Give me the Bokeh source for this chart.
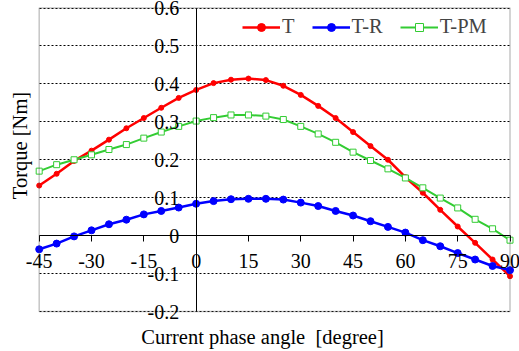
import math
from bokeh.plotting import figure
from bokeh.models import (Range1d, FixedTicker, Legend, Label, LabelSet,
                          ColumnDataSource, CustomJSTickFormatter, BoxAnnotation)
from bokeh.core.properties import value
from bokeh.embed import file_html
from bokeh.resources import INLINE

angle = list(range(-45, 91, 5))
T = [0.132, 0.163, 0.197, 0.224, 0.253, 0.283, 0.310, 0.337, 0.363, 0.384,
     0.402, 0.411, 0.414, 0.410, 0.395, 0.371, 0.342, 0.310, 0.273, 0.236,
     0.200, 0.154, 0.113, 0.068, 0.024, -0.019, -0.063, -0.107]
T_R = [-0.036, -0.021, -0.002, 0.014, 0.030, 0.042, 0.056, 0.065, 0.074, 0.084,
       0.091, 0.096, 0.097, 0.097, 0.095, 0.087, 0.078, 0.065, 0.053, 0.038,
       0.023, 0.008, -0.012, -0.028, -0.046, -0.063, -0.080, -0.091]
T_PM = [0.170, 0.187, 0.200, 0.213, 0.227, 0.240, 0.257, 0.273, 0.288, 0.302,
        0.311, 0.318, 0.318, 0.315, 0.306, 0.288, 0.268, 0.246, 0.220, 0.198,
        0.176, 0.152, 0.126, 0.099, 0.073, 0.043, 0.018, -0.012]

x_ticks = [-45, -30, -15, 0, 15, 30, 45, 60, 75, 90]
x_tick_labels = ["-45", "-30", "-15", "0", "15", "30", "45", "60", "75", "90"]
y_ticks = [-0.2, -0.1, 0.0, 0.1, 0.2, 0.3, 0.4, 0.5, 0.6]
y_tick_labels = ["-0.2", "-0.1", "0", "0.1", "0.2", "0.3", "0.4", "0.5", "0.6"]

FONT = "Liberation Serif"

# canvas and plot-box geometry (pixels)
W, H = 519, 351
BOX_L, BOX_R, BOX_T, BOX_B = 38.7, 509.5, 7.5, 311.0
x0, x1 = x_ticks[0], x_ticks[-1]
y0, y1 = y_ticks[0], y_ticks[-1]
ux = (x1 - x0) / (BOX_R - BOX_L)
uy = (y1 - y0) / (BOX_B - BOX_T)
x_range = Range1d(x0 - BOX_L * ux, x1 + (W - BOX_R) * ux)
y_range = Range1d(y0 - (H - BOX_B) * uy, y1 + BOX_T * uy)

p = figure(width=W, height=H, output_backend="svg", toolbar_location=None,
           x_range=x_range, y_range=y_range,
           min_border_left=0, min_border_right=0, min_border_top=0,
           min_border_bottom=0)
p.outline_line_color = None

blank = CustomJSTickFormatter(code="return ''")
# axes crossing at the origin
p.xaxis.fixed_location = 0
p.yaxis.fixed_location = 0
p.xaxis.ticker = FixedTicker(ticks=x_ticks)
p.yaxis.ticker = FixedTicker(ticks=y_ticks)
p.xaxis.bounds = (x0, x1)
p.yaxis.bounds = (y0, y1)
for ax in (p.xaxis[0], p.yaxis[0]):
    ax.axis_line_color = "black"
    ax.axis_line_width = 1
    ax.minor_tick_line_color = None
    ax.formatter = blank
    ax.major_label_standoff = 0
p.xaxis.major_tick_in = 0
p.xaxis.major_tick_out = 6
p.xaxis.major_tick_line_color = "black"
p.yaxis.major_tick_in = 0
p.yaxis.major_tick_out = 0

p.xgrid.visible = False
p.ygrid.grid_line_color = "black"
p.ygrid.grid_line_dash = "2 2"
p.ygrid.grid_line_width = 1
try:
    p.ygrid.cross_bounds = (x0, x1)
except Exception:
    p.ygrid.visible = False
    n = len(y_ticks)
    p.segment(x0=[x0] * n, y0=y_ticks, x1=[x1] * n, y1=y_ticks,
              line_color="black", line_dash="2 2", line_width=1)

# plot box border
p.add_layout(BoxAnnotation(left=x0, right=x1, bottom=y0, top=y1, fill_alpha=0,
                           line_color="#404040", line_width=1.5))

r1 = p.line(angle, T, color="#ff0000", line_width=2.5)
s1 = p.scatter(angle, T, marker="circle", size=5, color="#ff0000")
r2 = p.line(angle, T_R, color="#0000ff", line_width=2.5)
s2 = p.scatter(angle, T_R, marker="circle", size=7, color="#0000ff")
r3 = p.line(angle, T_PM, color="#33cc33", line_width=2)
s3 = p.scatter(angle, T_PM, marker="square", size=6, line_color="#33cc33",
               fill_color="white", line_width=1)

# tick labels next to the crossing axes
xsrc = ColumnDataSource(dict(x=x_ticks, y=[0] * len(x_ticks), t=x_tick_labels))
ysrc = ColumnDataSource(dict(x=[0] * len(y_ticks), y=y_ticks, t=y_tick_labels))
p.add_layout(LabelSet(source=xsrc, x="x", y="y", text="t", y_offset=-25,
                      text_align="center", text_baseline="middle",
                      text_font=value(FONT), text_font_size="20px", text_color="black"))
p.add_layout(LabelSet(source=ysrc, x="x", y="y", text="t", x_offset=-17,
                      text_align="right", text_baseline="middle",
                      text_font=value(FONT), text_font_size="20px", text_color="black"))

# axis titles (screen units from the canvas' bottom-left corner)
p.add_layout(Label(x=19, y=H - 145, x_units="screen", y_units="screen",
                   text="Torque [Nm]", angle=math.pi / 2, text_align="center",
                   text_baseline="alphabetic", text_font=FONT,
                   text_font_size="20.5px", text_color="black"))
p.add_layout(Label(x=262, y=H - 336, x_units="screen", y_units="screen",
                   text="Current phase angle\u00a0 [degree]", text_align="center",
                   text_baseline="alphabetic", text_font=FONT,
                   text_font_size="20.5px", text_color="black"))

legend = Legend(items=[("T", [r1, s1]), ("T-R", [r2, s2]), ("T-PM", [r3, s3])],
                orientation="horizontal", location=(242, H - 38),
                label_text_font=FONT, label_text_font_size="20.5px",
                glyph_width=38, glyph_height=20, label_standoff=2,
                label_width=0, spacing=17, padding=0, margin=0,
                border_line_alpha=0, background_fill_alpha=0)
p.add_layout(legend)

open("out.html", "w").write(file_html(p, INLINE))
